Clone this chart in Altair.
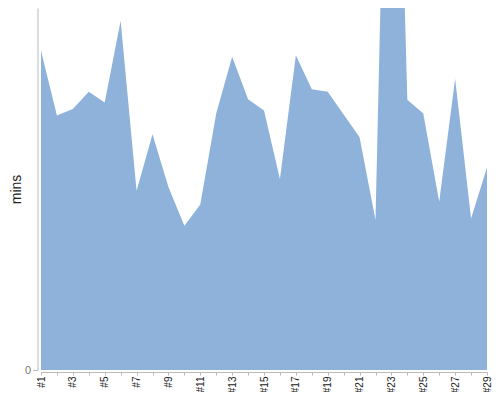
import altair as alt
import pandas as pd

categories = [f"#{i}" for i in range(1, 30)]
mins = [87.2, 69.5, 71.3, 76.0, 73.1, 95.4, 49.0, 64.4, 50.0, 39.4,
        45.2, 70.1, 85.6, 74.0, 70.9, 52.2, 86.0, 76.7, 76.0, 69.8,
        63.6, 41.0, 230.0, 73.8, 70.1, 46.0, 79.6, 41.4, 55.3]

df = pd.DataFrame({"run": categories, "mins": mins})

chart = alt.Chart(df).mark_area(color="#8fb2db", clip=True, opacity=1).encode(
    x=alt.X("run:O", sort=categories, title=None,
            scale=alt.Scale(type="point", padding=0),
            axis=alt.Axis(labelAngle=-90, labelFontSize=10, labelColor="#222",
                          labelFont="Liberation Sans", tickColor="#bbb",
                          domainColor="#bbb", tickSize=3, offset=2, labelPadding=1,
                          labelExpr="parseInt(slice(datum.value,1)) % 2 == 1 ? datum.value : ''")),
    y=alt.Y("mins:Q", title="mins",
            scale=alt.Scale(domain=[0, 98.9]),
            axis=alt.Axis(values=[0], grid=False, labelFontSize=11, labelColor="#777",
                          labelFont="Liberation Sans", titleFont="Liberation Sans",
                          titleFontSize=14, titleFontWeight="normal", titleColor="#222",
                          tickColor="#bbb", domainColor="#bbb", tickSize=5, offset=3.5,
                          labelPadding=2, titlePadding=1)),
).properties(
    width=446, height=362,
    autosize=alt.AutoSizeParams(type="none"),
    padding={"left": 33, "top": 0, "right": 5, "bottom": 22},
).configure_view(stroke=None)

chart.save("out.html", embed_options={"renderer": "svg", "actions": False})
